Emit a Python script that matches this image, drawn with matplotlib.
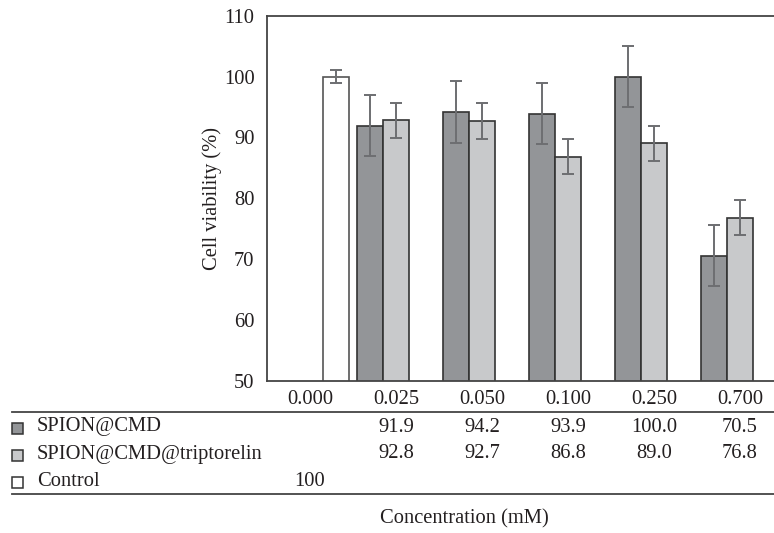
import numpy as np
import matplotlib
matplotlib.use('Agg')
import matplotlib.pyplot as plt
from matplotlib.patches import Rectangle
from matplotlib.lines import Line2D
from matplotlib.transforms import blended_transform_factory

plt.rcParams['font.family'] = ['Liberation Serif', 'DejaVu Serif']

# data
concentrations = ['0.000', '0.025', '0.050', '0.100', '0.250', '0.700']
cmd_vals = [np.nan, 91.9, 94.2, 93.9, 100.0, 70.5]
cmd_err = [np.nan, 5.0, 5.1, 5.0, 5.0, 5.0]
trip_vals = [np.nan, 92.8, 92.7, 86.8, 89.0, 76.8]
trip_err = [np.nan, 2.9, 2.9, 2.9, 2.9, 2.9]
control_vals = [100.0, np.nan, np.nan, np.nan, np.nan, np.nan]
control_err = [1.0, np.nan, np.nan, np.nan, np.nan, np.nan]
series_names = ['SPION@CMD', 'SPION@CMD@triptorelin', 'Control']

dark = '#939598'
light = '#c8c9cb'
err_col = '#6d6e71'
fs = 14.8

W, H = 774, 533
fig = plt.figure(figsize=(W / 100, H / 100), dpi=100)
ax = fig.add_axes([267 / W, 1 - 380.5 / H, 516 / W, (380.5 - 15.7) / H])

x = np.arange(len(concentrations))
bw = 0.3
ekw = dict(ecolor=err_col, elinewidth=1.4, capsize=4, capthick=1.4)
ax.bar(x - bw, cmd_vals, bw, yerr=cmd_err, color=dark, edgecolor='#333333',
       linewidth=1.2, error_kw=ekw, zorder=2)
ax.bar(x, trip_vals, bw, yerr=trip_err, color=light, edgecolor='#333333',
       linewidth=1.2, error_kw=ekw, zorder=2)
ax.bar(x + bw, control_vals, bw, yerr=control_err, color='white', edgecolor='#555555',
       linewidth=1.2, error_kw=ekw, zorder=2)

ax.set_ylim(50, 110)
ax.set_yticks([50, 60, 70, 80, 90, 100, 110])
ax.set_xlim(-0.5, len(concentrations) - 0.5)
ax.set_xticks(x)
ax.set_xticklabels(concentrations)
ax.tick_params(length=0, labelsize=fs, colors='#231f20')
ax.tick_params(axis='x', pad=7)
ax.tick_params(axis='y', pad=9)
for s in ax.spines.values():
    s.set_color('#444444')
    s.set_linewidth(1.3)
ax.set_ylabel('Cell viability (%)', fontsize=fs, color='#231f20', labelpad=1)

# data table below the axes
tr = blended_transform_factory(ax.transData, fig.transFigure)
row_y = [1 - 427 / H, 1 - 454 / H, 1 - 481 / H]
row_vals = [cmd_vals, trip_vals, control_vals]
fills = [dark, light, 'white']
for i, name in enumerate(series_names):
    fig.patches.append(Rectangle((12 / W, row_y[i] - 6.5 / H), 11 / W, 11 / H,
                                 transform=fig.transFigure, facecolor=fills[i],
                                 edgecolor='#333333', linewidth=1.1))
    fig.text(37 / W, row_y[i], name, fontsize=fs, va='center', ha='left', color='#231f20')
    for j, v in enumerate(row_vals[i]):
        if np.isnan(v):
            continue
        label = '100' if name == 'Control' else f'{v:.1f}'
        fig.text(x[j], row_y[i], label, transform=tr, fontsize=fs,
                 va='center', ha='center', color='#231f20')

for yy in [1 - 411.5 / H, 1 - 494 / H]:
    fig.add_artist(Line2D([12 / W, 1.0], [yy, yy], transform=fig.transFigure,
                          color='#444444', linewidth=1.3))

fig.text(464 / W, 1 - 519 / H, 'Concentration (mM)', fontsize=fs, ha='center',
         va='center', color='#231f20')

fig.savefig('out.png', dpi=100)
